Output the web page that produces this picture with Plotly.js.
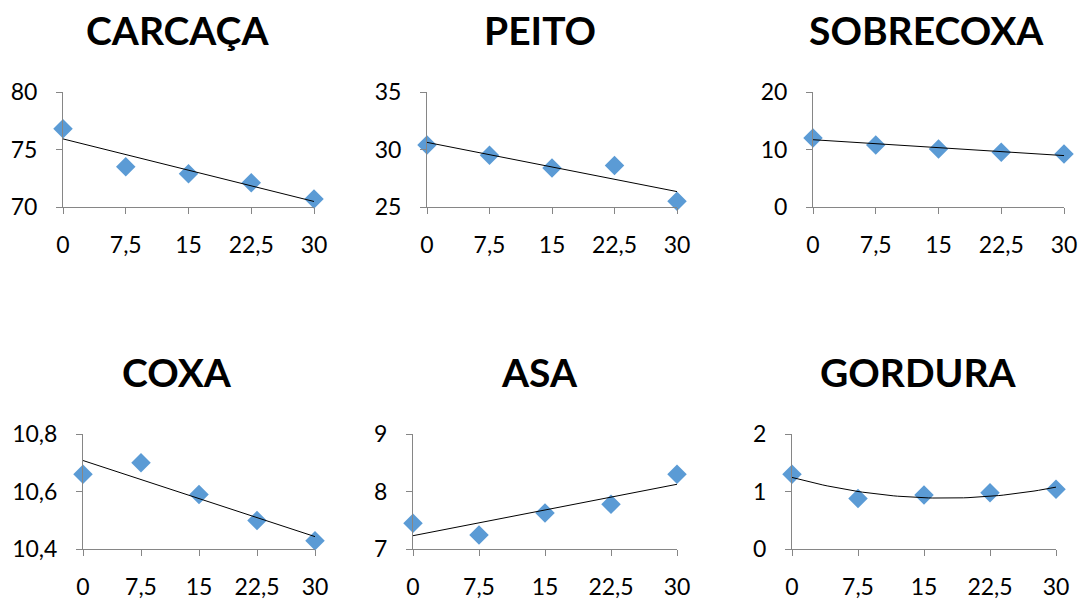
<!DOCTYPE html>
<html>
<head>
<meta charset="utf-8">
<script src="https://cdn.plot.ly/plotly-3.0.1.min.js"></script>
<style>html,body{margin:0;padding:0;background:#fff;}#chart{width:1083px;height:600px;}</style>
</head>
<body>
<div id="chart"></div>
<script>
// ---- data ----
const doses = [0, 7.5, 15, 22.5, 30];
const doseLabels = ["0", "7,5", "15", "22,5", "30"];
const titles = ["CARCAÇA", "PEITO", "SOBRECOXA", "COXA", "ASA", "GORDURA"];
const carcaca = [76.8, 73.5, 72.9, 72.1, 70.7];
const peito = [30.4, 29.5, 28.4, 28.6, 25.5];
const sobrecoxa = [12.0, 10.8, 10.1, 9.5, 9.2];
const coxa = [10.66, 10.70, 10.59, 10.50, 10.43];
const asa = [7.45, 7.25, 7.63, 7.78, 8.30];
const gordura = [1.30, 0.88, 0.94, 0.98, 1.04];
const yTickVals = [[70, 75, 80], [25, 30, 35], [0, 10, 20], [10.4, 10.6, 10.8], [7, 8, 9], [0, 1, 2]];
const yTickText = [["70", "75", "80"], ["25", "30", "35"], ["0", "10", "20"], ["10,4", "10,6", "10,8"], ["7", "8", "9"], ["0", "1", "2"]];
const trendOrder = [1, 1, 1, 1, 1, 2];

const series = [carcaca, peito, sobrecoxa, coxa, asa, gordura];

// ---- layout geometry (pixels) ----
const W = 1083, H = 600;
const xPix = [[63, 314], [427, 677], [813, 1064], [83, 315], [413, 677], [792, 1056]];
const yPix = [[92, 207], [92, 207], [92, 207], [434, 549.3], [434, 549.3], [434, 549.3]];
const titlePix = [[177, 30], [540, 30], [926, 30], [177, 372], [539, 372], [918, 372]];

// least squares polynomial fit
function polyfit(xs, ys, order) {
  const n = order + 1;
  const A = [];
  for (let i = 0; i < n; i++) {
    A.push([]);
    for (let j = 0; j < n; j++) {
      let s = 0; xs.forEach(x => s += Math.pow(x, i + j)); A[i].push(s);
    }
    let s = 0; xs.forEach((x, k) => s += Math.pow(x, i) * ys[k]); A[i].push(s);
  }
  for (let i = 0; i < n; i++) {
    for (let k = i + 1; k < n; k++) {
      const f = A[k][i] / A[i][i];
      for (let j = i; j <= n; j++) A[k][j] -= f * A[i][j];
    }
  }
  const c = new Array(n).fill(0);
  for (let i = n - 1; i >= 0; i--) {
    let s = A[i][n];
    for (let j = i + 1; j < n; j++) s -= A[i][j] * c[j];
    c[i] = s / A[i][i];
  }
  return c;
}

const traces = [];
const layout = {
  width: W, height: H,
  margin: {l: 0, r: 0, t: 0, b: 0},
  showlegend: false,
  paper_bgcolor: "#fff", plot_bgcolor: "#fff",
  font: {family: "Lato, 'Open Sans', sans-serif", color: "#000"},
  annotations: []
};

series.forEach((ys, i) => {
  const k = i + 1;
  const xa = "x" + (k === 1 ? "" : k), ya = "y" + (k === 1 ? "" : k);
  traces.push({
    x: doses, y: ys, xaxis: xa, yaxis: ya, type: "scatter", mode: "markers",
    cliponaxis: false,
    marker: {symbol: "diamond", size: 15, color: "#5B9BD5", line: {width: 0}}
  });
  // trend line: least-squares fit of the data (as Excel trendline)
  const c = polyfit(doses, ys, trendOrder[i]);
  const tx = [], ty = [];
  const steps = trendOrder[i] === 1 ? 1 : 60;
  for (let s = 0; s <= steps; s++) {
    const x = 30 * s / steps;
    tx.push(x);
    ty.push(c.reduce((acc, cc, p) => acc + cc * Math.pow(x, p), 0));
  }
  traces.push({
    x: tx, y: ty, xaxis: xa, yaxis: ya, type: "scatter", mode: "lines",
    cliponaxis: false,
    line: {color: "#000", width: 1}
  });
  const axCommon = {
    showline: true, linecolor: "#868686", linewidth: 1,
    ticks: "outside", ticklen: 6, tickcolor: "#868686", tickwidth: 1,
    showgrid: false, zeroline: false, fixedrange: true,
    tickfont: {size: 23, color: "#000", family: "Lato, sans-serif"}
  };
  const yv = yTickVals[i];
  layout["xaxis" + (k === 1 ? "" : k)] = Object.assign({}, axCommon, {
    domain: [xPix[i][0] / W, xPix[i][1] / W],
    anchor: "y" + (k === 1 ? "" : k),
    range: [0, 30], tickmode: "array", tickvals: doses, ticktext: doseLabels,
    ticklabelstandoff: 11
  });
  layout["yaxis" + (k === 1 ? "" : k)] = Object.assign({}, axCommon, {
    domain: [1 - yPix[i][1] / H, 1 - yPix[i][0] / H],
    anchor: "x" + (k === 1 ? "" : k),
    range: [yv[0], yv[yv.length - 1]], tickmode: "array", tickvals: yv, ticktext: yTickText[i],
    ticklabelstandoff: 14
  });
  layout.annotations.push({
    text: "<b>" + titles[i] + "</b>", xref: "paper", yref: "paper",
    x: titlePix[i][0] / W, y: 1 - titlePix[i][1] / H,
    xanchor: "center", yanchor: "middle", showarrow: false,
    font: {size: 39, color: "#000", family: "Lato, sans-serif"}
  });
});

Plotly.newPlot("chart", traces, layout, {displayModeBar: false, staticPlot: true});
</script>
</body>
</html>
